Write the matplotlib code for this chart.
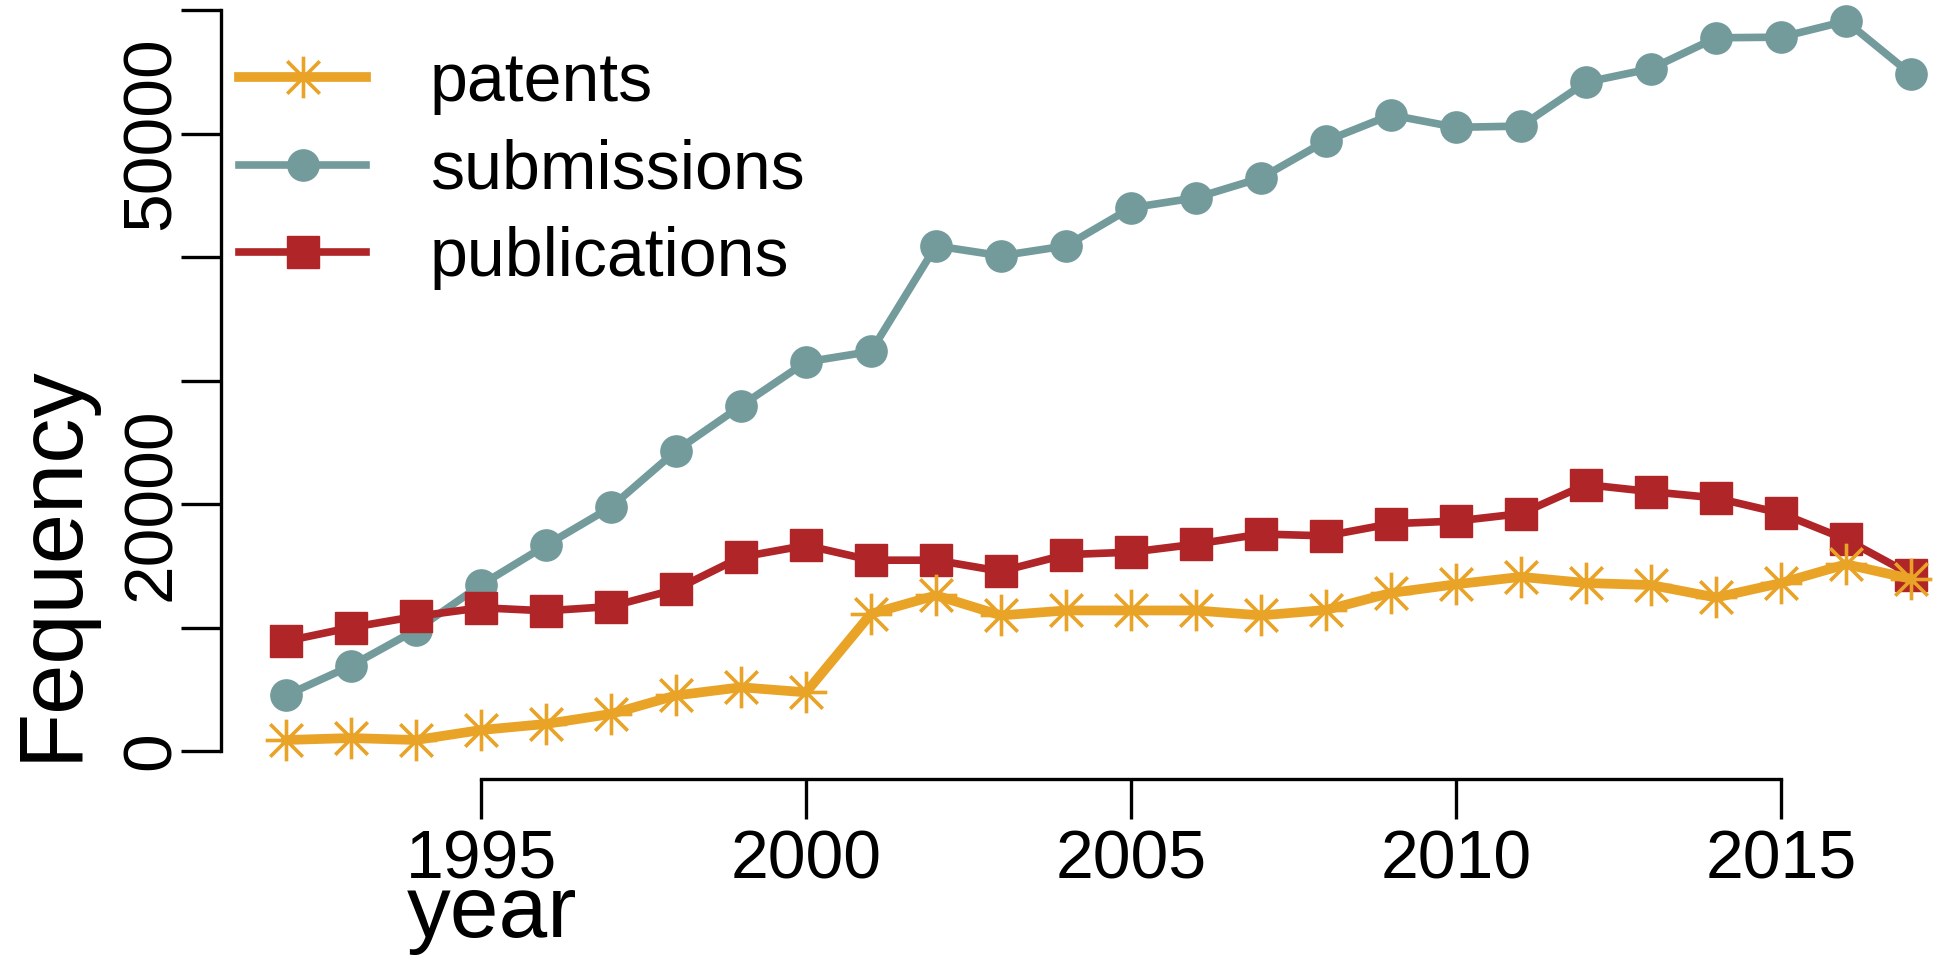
import numpy as np
import matplotlib
matplotlib.use("Agg")
import matplotlib.pyplot as plt
from matplotlib.path import Path

plt.rcParams["font.family"] = ["Liberation Sans", "DejaVu Sans"]

years = list(range(1992, 2018))
patents = [890, 1050, 890, 1700, 2190, 3000, 4500, 5160, 4750, 11110,
           12600, 10980, 11380, 11380, 11380, 10980, 11420, 12800, 13500,
           14100, 13600, 13440, 12430, 13600, 15120, 13940]
submissions = [4500, 6900, 9800, 13450, 16650, 19750, 24300, 27950, 31500,
               32350, 40900, 40100, 40900, 43980, 44800, 46400, 49400, 51500,
               50500, 50600, 54150, 55250, 57750, 57800, 59100, 54800]
publications = [8900, 10000, 10900, 11600, 11350, 11700, 13100, 15700, 16650,
                15450, 15450, 14550, 15900, 16100, 16750, 17570, 17420, 18400,
                18620, 19220, 21570, 21000, 20490, 19250, 17130, 14280]

x_ticks = [1995, 2000, 2005, 2010, 2015]
y_ticks = [0, 10000, 20000, 30000, 40000, 50000, 60000]
y_tick_labels = ["0", "", "20000", "", "", "50000", ""]

c_pat = "#E9A326"
c_sub = "#739B9C"
c_pub = "#AF2528"

# R style pch=8 asterisk: "+" over "x"
d = 0.78
star = Path(
    [(0, -1), (0, 1), (-1, 0), (1, 0), (-d, -d), (d, d), (-d, d), (d, -d)],
    [Path.MOVETO, Path.LINETO] * 4,
)

W, H = 1950, 974
fig = plt.figure(figsize=(W / 100, H / 100), dpi=100)

# axes frame in pixels: left spine at x=221, bottom spine at y=779
left_px, bottom_px = 221, 779
ax = fig.add_axes([left_px / W, (H - bottom_px) / H, 1 - left_px / W, bottom_px / H])

px_per_year = 65.0
px_per_unit = 123.5 / 10000
x0 = 1991.0
ax.set_xlim(x0, x0 + (W - left_px) / px_per_year)
y_zero_px = 751
ax.set_ylim(-(bottom_px - y_zero_px) / px_per_unit, y_zero_px / px_per_unit)

ax.plot(years, patents, color=c_pat, lw=7.0, marker=star, ms=30, mew=2.6,
        label="patents", clip_on=False, zorder=3)
ax.plot(years, submissions, color=c_sub, lw=5.5, marker="o", ms=22.5,
        mec=c_sub, label="submissions", clip_on=False, zorder=2)
ax.plot(years, publications, color=c_pub, lw=5.5, marker="s", ms=23,
        mec=c_pub, label="publications", clip_on=False, zorder=2)

for s in ["top", "right"]:
    ax.spines[s].set_visible(False)
for s in ["left", "bottom"]:
    ax.spines[s].set_linewidth(2.4)
ax.spines["left"].set_bounds(0, 60000)
ax.spines["bottom"].set_bounds(1995, 2015)

ax.set_xticks(x_ticks)
ax.set_xticklabels([str(v) for v in x_ticks])
ax.set_yticks(y_ticks)
ax.set_yticklabels(y_tick_labels)
ax.tick_params(axis="both", direction="out", length=29, width=2.4)
ax.tick_params(axis="x", pad=6.5, labelsize=49)
ax.tick_params(axis="y", pad=-2, labelsize=50, labelrotation=90)
for lbl in ax.get_yticklabels():
    lbl.set_va("center")

fig.text(76 / W, 1 - 563 / H, "Fequency", rotation=90, rotation_mode="anchor",
         ha="center", va="baseline", fontsize=65)
fig.text(492 / W, 1 - 937 / H, "year", ha="center", va="baseline", fontsize=63)

ax.legend(loc="upper left", bbox_to_anchor=(239 / W, 1 - 51 / H),
          bbox_transform=fig.transFigure, frameon=False, fontsize=49,
          handlelength=1.87, handletextpad=0.93, labelspacing=0.345,
          borderpad=0, borderaxespad=0, numpoints=1)

fig.savefig("out.png", dpi=100)
